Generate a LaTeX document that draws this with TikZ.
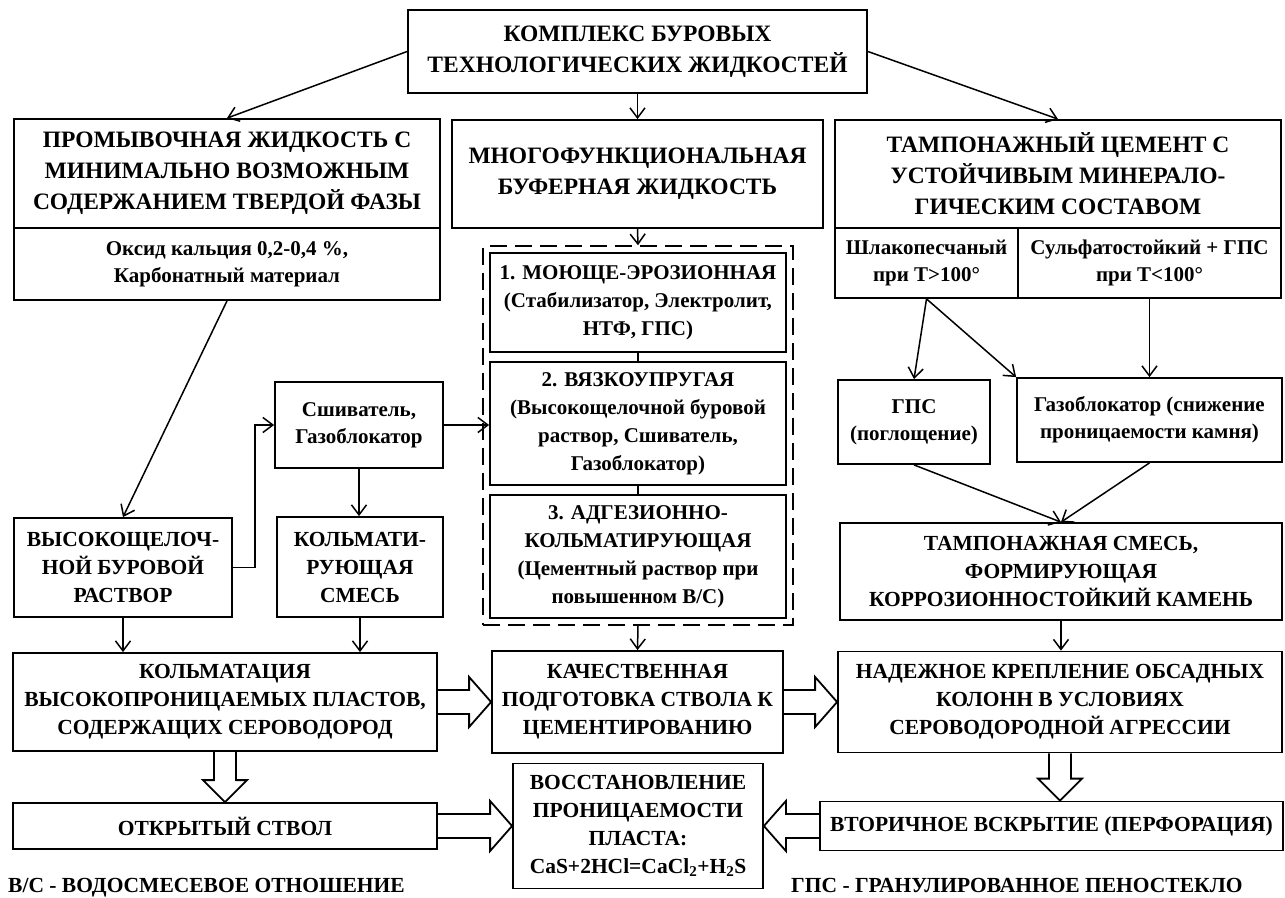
\documentclass[tikz,border=0pt]{standalone}
\usepackage{fontspec}
\setmainfont{Liberation Serif}
\usetikzlibrary{arrows.meta,calc,fit}
\newcommand\blkR[2]{\draw[blk] ($(#1.east|-#2.west)+(0,-12)$) -- ($(#2.west)+(-22,-12)$) -- ($(#2.west)+(-22,-25)$) -- (#2.west) -- ($(#2.west)+(-22,25)$) -- ($(#2.west)+(-22,12)$) -- ($(#1.east|-#2.west)+(0,12)$);}
\newcommand\blkL[2]{\draw[blk] ($(#1.west|-#2.east)+(0,-12)$) -- ($(#2.east)+(22,-12)$) -- ($(#2.east)+(22,-25)$) -- (#2.east) -- ($(#2.east)+(22,25)$) -- ($(#2.east)+(22,12)$) -- ($(#1.west|-#2.east)+(0,12)$);}
\newcommand\blkD[2]{\draw[blk] ($(#1.south)+(-11,0)$) -- ($(#1.south|-#2.north)+(-11,-22)$) -- ($(#1.south|-#2.north)+(-22,-22)$) -- (#1.south|-#2.north) -- ($(#1.south|-#2.north)+(22,-22)$) -- ($(#1.south|-#2.north)+(11,-22)$) -- ($(#1.south)+(11,0)$);}
\begin{document}
\begin{tikzpicture}[x=1pt,y=-1pt,
  box/.style={draw,line width=1.8pt,align=center,inner sep=2pt,font=\bfseries\fontsize{21.5}{28}\selectfont},
  tf/.style={font=\bfseries\fontsize{23.5}{31}\selectfont},
  sf/.style={font=\bfseries\fontsize{21}{27}\selectfont},
  bf/.style={font=\bfseries\fontsize{21}{28}\selectfont},
  sz/.style 2 args={minimum width=#1pt,minimum height=#2pt},
  arr/.style={line width=1.5pt,-{Straight Barb[length=10pt,width=15pt,line width=1.5pt]}},
  link/.style={line width=1.5pt},
  blk/.style={line width=1.8pt,line join=miter},
  dbox/.style={draw,line width=1.8pt,dash pattern=on 17pt off 8pt,inner sep=6pt},
  leg/.style={font=\bfseries\fontsize{21.5}{24}\selectfont,inner sep=0pt}]
\fill[white] (0,0) rectangle (1285,897);
\useasboundingbox (0,0) rectangle (1285,897);
% top level
\node[box,tf,sz={459}{83}] (top) at (637.5,51.5) {КОМПЛЕКС БУРОВЫХ\\ТЕХНОЛОГИЧЕСКИХ ЖИДКОСТЕЙ};
\node[box,tf,sz={426}{109}] (prom) at (227,173.5) {ПРОМЫВОЧНАЯ ЖИДКОСТЬ С\\МИНИМАЛЬНО ВОЗМОЖНЫМ\\СОДЕРЖАНИЕМ ТВЕРДОЙ ФАЗЫ};
\node[box,sf,sz={426}{72}] (promsub) at (227,264) {Оксид кальция 0,2-0,4 \%,\\Карбонатный материал};
\node[box,tf,sz={371}{108}] (buf) at (637.5,174) {МНОГОФУНКЦИОНАЛЬНАЯ\\БУФЕРНАЯ ЖИДКОСТЬ};
\node[box,tf,sz={446}{108}] (tamp) at (1058,174) {ТАМПОНАЖНЫЙ ЦЕМЕНТ С\\УСТОЙЧИВЫМ МИНЕРАЛО-\\ГИЧЕСКИМ СОСТАВОМ};
\node[box,sf,sz={183}{70}] (shlak) at (926.5,263) {Шлакопесчаный\\при Т>100°};
\node[box,sf,sz={263}{70}] (sulf) at (1149.5,263) {Сульфатостойкий + ГПС\\при Т<100°};
% buffer stages
\node[box,bf,sz={296}{99}] (b1) at (638,302.5) {1. МОЮЩЕ-ЭРОЗИОННАЯ\\(Стабилизатор, Электролит,\\НТФ, ГПС)};
\node[box,bf,sz={296}{123}] (b2) at (638,423.5) {2. ВЯЗКОУПРУГАЯ\\(Высокощелочной буровой\\раствор, Сшиватель,\\Газоблокатор)};
\node[box,bf,sz={296}{123}] (b3) at (638,556.5) {3. АДГЕЗИОННО-\\КОЛЬМАТИРУЮЩАЯ\\(Цементный раствор при\\повышенном В/С)};
\node[dbox,fit=(b1)(b3)] (dash) {};
% left column
\node[box,sf,sz={168}{86}] (sshiv) at (359,425) {Сшиватель,\\Газоблокатор};
\node[box,sz={218}{99}] (vysok) at (123,567.5) {ВЫСОКОЩЕЛОЧ-\\НОЙ БУРОВОЙ\\РАСТВОР};
\node[box,sz={166}{100}] (kolmat) at (360,567) {КОЛЬМАТИ-\\РУЮЩАЯ\\СМЕСЬ};
\node[box,sz={424}{98}] (kolmatac) at (225,702) {КОЛЬМАТАЦИЯ\\ВЫСОКОПРОНИЦАЕМЫХ ПЛАСТОВ,\\СОДЕРЖАЩИХ СЕРОВОДОРОД};
\node[box,sz={424}{46}] (otkr) at (225,826) {ОТКРЫТЫЙ СТВОЛ};
% middle lower
\node[box,sz={291}{102}] (kach) at (637.5,702) {КАЧЕСТВЕННАЯ\\ПОДГОТОВКА СТВОЛА К\\ЦЕМЕНТИРОВАНИЮ};
\node[box,sz={250}{125}] (vosst) at (638,826) {ВОССТАНОВЛЕНИЕ\\ПРОНИЦАЕМОСТИ\\ПЛАСТА:\\CaS+2HCl=CaCl\textsubscript{2}+H\textsubscript{2}S};
% right column
\node[box,sf,sz={152}{84}] (gps) at (914,422) {ГПС\\(поглощение)};
\node[box,sf,sz={265}{84}] (gazo) at (1149.5,420) {Газоблокатор (снижение\\проницаемости камня)};
\node[box,sz={442}{97}] (tsmes) at (1061,571.5) {ТАМПОНАЖНАЯ СМЕСЬ,\\ФОРМИРУЮЩАЯ\\КОРРОЗИОННОСТОЙКИЙ КАМЕНЬ};
\node[box,sz={444}{101}] (nadezh) at (1060,702) {НАДЕЖНОЕ КРЕПЛЕНИЕ ОБСАДНЫХ\\КОЛОНН В УСЛОВИЯХ\\СЕРОВОДОРОДНОЙ АГРЕССИИ};
\node[box,sz={463}{49}] (vtor) at (1051.5,826) {ВТОРИЧНОЕ ВСКРЫТИЕ (ПЕРФОРАЦИЯ)};
% legends
\node[leg,anchor=base west] (legL) at (8,892) {В/С - ВОДОСМЕСЕВОЕ ОТНОШЕНИЕ};
\node[leg,anchor=base west] (legR) at (791,892) {ГПС - ГРАНУЛИРОВАННОЕ ПЕНОСТЕКЛО};
% connectors
\draw[arr] (top.west) -- (prom.north);
\draw[arr] (top.south) -- (buf.north);
\draw[arr] (top.east) -- (tamp.north);
\draw[arr] (buf.south) -- (dash.north);
\draw[link] (b1.south) -- (b2.north);
\draw[link] (b2.south) -- (b3.north);
\draw[arr] (dash.south) -- (kach.north);
\draw[arr] (promsub.south) -- (vysok.north);
\draw[arr] (vysok.east) -- ++(22,0) |- (sshiv.west);
\draw[arr] (sshiv.south) -- (sshiv.south|-kolmat.north);
\draw[arr] (sshiv.east) -- (sshiv.east-|b2.west);
\draw[arr] (vysok.south) -- (vysok.south|-kolmatac.north);
\draw[arr] (kolmat.south) -- (kolmat.south|-kolmatac.north);
\draw[arr] (shlak.south) -- (gps.north);
\draw[arr] (shlak.south) -- (gazo.north west);
\draw[arr] (sulf.south) -- (gazo.north);
\draw[arr] (gps.south) -- (tsmes.north);
\draw[arr] (gazo.south) -- (tsmes.north);
\draw[arr] (tsmes.south) -- (tsmes.south|-nadezh.north);
% block arrows
\blkR{kolmatac}{kach}
\blkR{kach}{nadezh}
\blkR{otkr}{vosst}
\blkL{vtor}{vosst}
\blkD{kolmatac}{otkr}
\blkD{nadezh}{vtor}
\end{tikzpicture}
\end{document}
